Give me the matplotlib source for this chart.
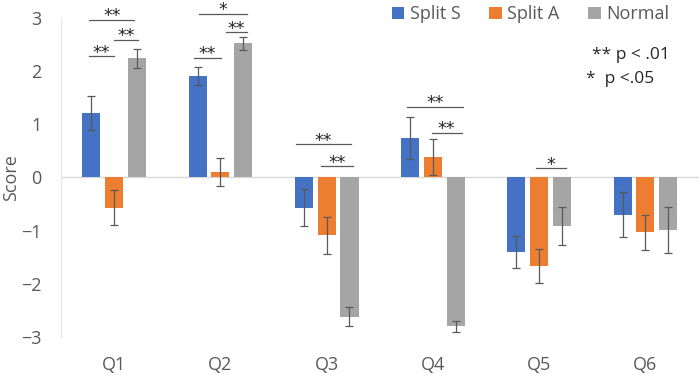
import numpy as np
import matplotlib.pyplot as plt

plt.rcParams['font.family'] = ['Open Sans', 'DejaVu Sans']

categories = ["Q1", "Q2", "Q3", "Q4", "Q5", "Q6"]
split_s = [1.21, 1.91, -0.57, 0.74, -1.41, -0.70]
split_s_err = [0.32, 0.17, 0.35, 0.40, 0.30, 0.42]
split_a = [-0.57, 0.10, -1.09, 0.39, -1.66, -1.03]
split_a_err = [0.33, 0.27, 0.34, 0.34, 0.32, 0.33]
normal = [2.24, 2.52, -2.62, -2.80, -0.91, -0.99]
normal_err = [0.18, 0.13, 0.18, 0.10, 0.36, 0.43]

# significance brackets: (category, x start offset, x end offset, y, label)
brackets = [
    (0, -0.235, 0.19, 2.96, "**"),
    (0, 0.0, 0.225, 2.59, "**"),
    (0, -0.235, 0.0, 2.28, "**"),
    (1, -0.20, 0.25, 3.08, "*"),
    (1, 0.05, 0.25, 2.73, "**"),
    (1, -0.25, 0.005, 2.25, "**"),
    (2, -0.29, 0.225, 0.62, "**"),
    (2, -0.05, 0.25, 0.21, "**"),
    (3, -0.24, 0.28, 1.33, "**"),
    (3, -0.01, 0.27, 0.84, "**"),
    (4, -0.03, 0.25, 0.175, "*"),
]

colors = ["#4472C4", "#ED7D31", "#A5A5A5"]
x = np.arange(len(categories))
w = 0.17
off = 0.215

fig = plt.figure(figsize=(6.99, 3.75), dpi=100)
ax = fig.add_axes([0.0873, 0.1013, 0.912, 0.851])

ekw = dict(ecolor="#595959", elinewidth=0.9, capsize=3, capthick=0.9)
ax.bar(x - off, split_s, w, yerr=split_s_err, color=colors[0], label="Split S", error_kw=ekw)
ax.bar(x, split_a, w, yerr=split_a_err, color=colors[1], label="Split A", error_kw=ekw)
ax.bar(x + off, normal, w, yerr=normal_err, color=colors[2], label="Normal", error_kw=ekw)

for i, x0, x1, y, lab in brackets:
    ax.plot([i + x0, i + x1], [y, y], color="#595959", lw=0.9, clip_on=False)
    ax.annotate(lab, (i + (x0 + x1) / 2, y), xytext=(0, -1), textcoords="offset points",
                ha="center", va="baseline", fontsize=12.5, family="DejaVu Sans",
                color="#262626", annotation_clip=False)

ax.axhline(0, color="#D9D9D9", lw=1, zorder=0)
ax.set_xlim(-0.5, len(categories) - 0.5)
ax.set_ylim(-3, 3)
ax.set_yticks([-3, -2, -1, 0, 1, 2, 3])
ax.set_xticks(x)
ax.set_xticklabels(categories)
ax.tick_params(axis="both", length=0, labelsize=13, labelcolor="#595959")
ax.tick_params(axis="x", pad=14)
ax.tick_params(axis="y", pad=14)
for s in ["top", "right", "bottom"]:
    ax.spines[s].set_visible(False)
ax.spines["left"].set_color("#E5E5E5")
ax.set_ylabel("Score", fontsize=13, color="#595959")
ax.yaxis.set_label_coords(-0.064, 0.5)

ax.legend(loc="upper right", bbox_to_anchor=(0.98, 1.09), ncol=3, frameon=False,
          fontsize=13, handlelength=0.7, handleheight=0.7, handletextpad=0.3,
          columnspacing=1.6, labelcolor="#595959")

ax.text(0.955, 0.87, "** p < .01", transform=ax.transAxes, ha="right", fontsize=12.5, color="#262626")
ax.text(0.93, 0.795, "*  p <.05", transform=ax.transAxes, ha="right", fontsize=12.5, color="#262626")

fig.savefig("out.png", dpi=100)
